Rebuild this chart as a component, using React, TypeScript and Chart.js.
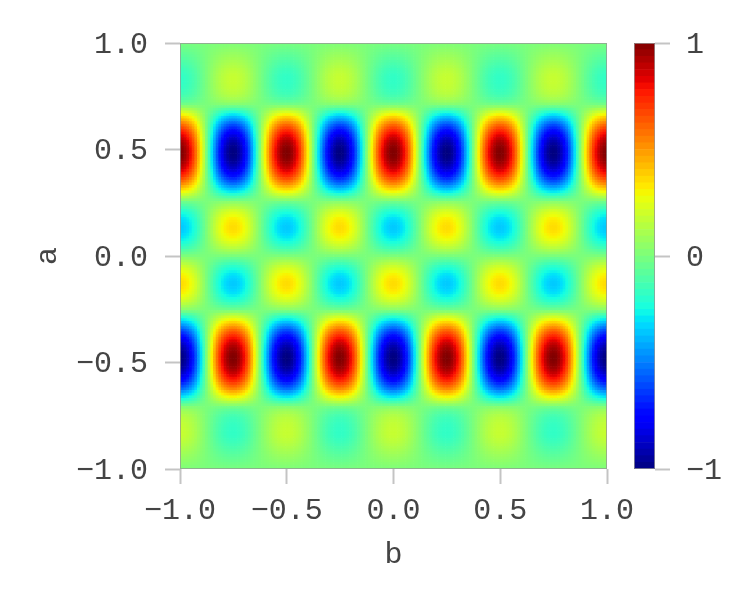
import React, { useEffect, useRef } from "react";
import { Chart, registerables } from "chart.js";

Chart.register(...registerables);

// Cell positions along each axis are read in steps of 0.0125.
// Each cell's value = aProfile[row] * bProfile[col]: both profiles are estimates.
const bProfile = [
  1,.99,.95,.89,.81,.71,.59,.45,.31,.16,0,-.16,-.31,-.45,-.59,-.71,-.81,-.89,-.95,-.99,
  -1,-.99,-.95,-.89,-.81,-.71,-.59,-.45,-.31,-.16,0,.16,.31,.45,.59,.71,.81,.89,.95,.99,
  1,.99,.95,.89,.81,.71,.59,.45,.31,.16,0,-.16,-.31,-.45,-.59,-.71,-.81,-.89,-.95,-.99,
  -1,-.99,-.95,-.89,-.81,-.71,-.59,-.45,-.31,-.16,0,.16,.31,.45,.59,.71,.81,.89,.95,.99,
  1,.99,.95,.89,.81,.71,.59,.45,.31,.16,0,-.16,-.31,-.45,-.59,-.71,-.81,-.89,-.95,-.99,
  -1,-.99,-.95,-.89,-.81,-.71,-.59,-.45,-.31,-.16,0,.16,.31,.45,.59,.71,.81,.89,.95,.99,
  1,.99,.95,.89,.81,.71,.59,.45,.31,.16,0,-.16,-.31,-.45,-.59,-.71,-.81,-.89,-.95,-.99,
  -1,-.99,-.95,-.89,-.81,-.71,-.59,-.45,-.31,-.16,0,.16,.31,.45,.59,.71,.81,.89,.95,.99,
  1,
];

const aProfile = [
  .01,.02,.035,.05,.065,.08,.095,.11,.125,.14,.155,.165,.175,.18,.18,.18,.175,.17,.16,.15,.13,.105,.075,.03,
  -.045,-.13,-.22,-.3,-.385,-.46,-.54,-.61,-.676,-.74,-.793,-.843,-.887,-.925,-.955,-.977,-.992,-1,
  -1,-.991,-.975,-.952,-.92,-.884,-.84,-.79,-.732,-.67,-.603,-.53,-.454,-.374,-.292,-.209,-.122,-.034,
  .047,.102,.153,.205,.246,.279,.31,.33,.344,.353,.352,.343,.326,.303,.274,.238,.197,.153,.104,.052,
  0,
  -.052,-.104,-.153,-.197,-.238,-.274,-.303,-.326,-.343,-.352,-.353,-.344,-.33,-.31,-.279,-.246,-.205,-.153,-.102,-.047,
  .034,.122,.209,.292,.374,.454,.53,.603,.67,.732,.79,.84,.884,.92,.952,.975,.991,1,
  1,.992,.977,.955,.925,.887,.843,.793,.74,.676,.61,.54,.46,.385,.3,.22,.13,.045,
  -.03,-.075,-.105,-.13,-.15,-.16,-.17,-.175,-.18,-.18,-.18,-.175,-.165,-.155,-.14,-.125,-.11,-.095,-.08,-.065,-.05,-.035,-.02,-.01,
];

const bPositions = bProfile.map((_, i) => (i - 80) / 80);
const aPositions = aProfile.map((_, i) => (i - (aProfile.length - 1) / 2) / 80);

const colorLevels = [
  -.984,-.953,-.922,-.891,-.859,-.828,-.797,-.766,-.734,-.703,-.672,-.641,-.609,-.578,-.547,-.516,
  -.484,-.453,-.422,-.391,-.359,-.328,-.297,-.266,-.234,-.203,-.172,-.141,-.109,-.078,-.047,-.016,
  .016,.047,.078,.109,.141,.172,.203,.234,.266,.297,.328,.359,.391,.422,.453,.484,
  .516,.547,.578,.609,.641,.672,.703,.734,.766,.797,.828,.859,.891,.922,.953,.984,
];

const xTicks = [-1, -0.5, 0, 0.5, 1];
const yTicks = [-1, -0.5, 0, 0.5, 1];
const barTicks = [-1, 0, 1];

const FONT = '"Liberation Mono"';
const TEXT = "#444444";
const GRAY = "#c4c4c4";
const FRAME = "rgba(150,150,150,0.75)";

const seg = (t: number, pts: number[][]) => {
  if (t <= pts[0][0]) return pts[0][1];
  for (let i = 1; i < pts.length; i++) {
    if (t <= pts[i][0]) {
      const [x0, y0] = pts[i - 1];
      const [x1, y1] = pts[i];
      return y0 + ((y1 - y0) * (t - x0)) / (x1 - x0);
    }
  }
  return pts[pts.length - 1][1];
};
const jet = (v: number) => {
  const t = Math.max(0, Math.min(1, (v + 1) / 2));
  const r = seg(t, [[0, 0], [0.35, 0], [0.66, 1], [0.89, 1], [1, 0.5]]);
  const g = seg(t, [[0, 0], [0.125, 0], [0.375, 1], [0.64, 1], [0.91, 0], [1, 0]]);
  const b = seg(t, [[0, 0.5], [0.11, 1], [0.34, 1], [0.65, 0], [1, 0]]);
  return `rgb(${Math.round(r * 255)},${Math.round(g * 255)},${Math.round(b * 255)})`;
};

const framePlugin = {
  id: "frame",
  afterDatasetsDraw(chart: any) {
    const { ctx, chartArea: c } = chart;
    ctx.save();
    ctx.strokeStyle = FRAME;
    ctx.lineWidth = 1;
    ctx.strokeRect(c.left + 0.5, c.top + 0.5, c.right - c.left - 1, c.bottom - c.top - 1);
    ctx.restore();
  },
};

const minus = (s: string) => s.replace("-", "\u2212");
// An empty first line nudges the label down by half the small line height.
const lowered = (s: string) => ["", s];

export default function App() {
  const mainRef = useRef<HTMLCanvasElement>(null);
  const barRef = useRef<HTMLCanvasElement>(null);

  useEffect(() => {
    const halfStep = 1 / 160;
    const datasets = aProfile.map((av, r) => ({
      data: bProfile.map((_, c) => ({
        x: bPositions[c],
        y: [aPositions[r] - halfStep, aPositions[r] + halfStep],
      })),
      backgroundColor: bProfile.map((bv) => jet(av * bv)),
      borderWidth: 0,
      barPercentage: 1,
      categoryPercentage: 1,
    }));

    const main = new Chart(mainRef.current!, {
      type: "bar",
      data: { datasets: datasets as any },
      plugins: [framePlugin],
      options: {
        animation: false,
        responsive: false,
        events: [],
        layout: { padding: { left: 0, top: 43, right: 143, bottom: 0 } },
        plugins: { legend: { display: false }, tooltip: { enabled: false } },
        scales: {
          x: {
            type: "linear",
            stacked: true,
            offset: false,
            min: -1,
            max: 1,
            afterFit: (s: any) => { s.height = 131; },
            afterBuildTicks: (s: any) => { s.ticks = xTicks.map((value) => ({ value })); },
            grid: { offset: false, drawOnChartArea: false, tickLength: 15, tickWidth: 2, tickColor: GRAY },
            border: { display: false },
            ticks: {
              autoSkip: false, maxRotation: 0, padding: 9, color: TEXT,
              font: { family: FONT, size: 30 },
              callback: (v: any) => minus(Number(v).toFixed(1)),
            },
            title: { display: true, text: "b", color: TEXT, font: { family: FONT, size: 30 }, padding: { top: 0, bottom: 27 } },
          },
          y: {
            type: "linear",
            min: -1,
            max: 1,
            afterFit: (s: any) => { s.width = 180; },
            afterBuildTicks: (s: any) => { s.ticks = yTicks.map((value) => ({ value })); },
            grid: { drawOnChartArea: false, tickLength: 15, tickWidth: 2, tickColor: GRAY },
            border: { display: false },
            ticks: {
              autoSkip: false, padding: 17, color: TEXT,
              font: { family: FONT, size: 30, lineHeight: "4px" },
              callback: (v: any) => lowered(minus(Number(v).toFixed(1))),
            },
            title: { display: true, text: "a", color: TEXT, font: { family: FONT, size: 30 }, padding: { top: 30, bottom: 0 } },
          },
        },
      },
    });

    const barHalf = 1 / 64;
    const bar = new Chart(barRef.current!, {
      type: "bar",
      data: {
        labels: ["level"],
        datasets: colorLevels.map((v) => ({
          data: [[v - barHalf, v + barHalf]],
          backgroundColor: jet(v),
          borderWidth: 0,
          barPercentage: 1,
          categoryPercentage: 1,
        })) as any,
      },
      plugins: [framePlugin],
      options: {
        animation: false,
        responsive: false,
        events: [],
        layout: { padding: { left: 634, top: 43, right: 0, bottom: 131 } },
        plugins: { legend: { display: false }, tooltip: { enabled: false } },
        scales: {
          x: { stacked: true, display: false },
          y: {
            type: "linear",
            position: "right",
            min: -1,
            max: 1,
            afterFit: (s: any) => { s.width = 95; },
            afterBuildTicks: (s: any) => { s.ticks = barTicks.map((value) => ({ value })); },
            grid: { drawOnChartArea: false, tickLength: 15, tickWidth: 2, tickColor: GRAY },
            border: { display: false },
            ticks: {
              autoSkip: false, padding: 16, color: TEXT,
              font: { family: FONT, size: 30, lineHeight: "4px" },
              callback: (v: any) => lowered(minus(String(v))),
            },
          },
        },
      },
    });

    return () => {
      main.destroy();
      bar.destroy();
    };
  }, []);

  const style: React.CSSProperties = { position: "absolute", left: 0, top: 0, width: 750, height: 600 };
  return (
    <div style={{ position: "fixed", left: 0, top: 0, width: 750, height: 600, background: "#fff" }}>
      <canvas ref={mainRef} width={750} height={600} style={style} />
      <canvas ref={barRef} width={750} height={600} style={style} />
    </div>
  );
}
